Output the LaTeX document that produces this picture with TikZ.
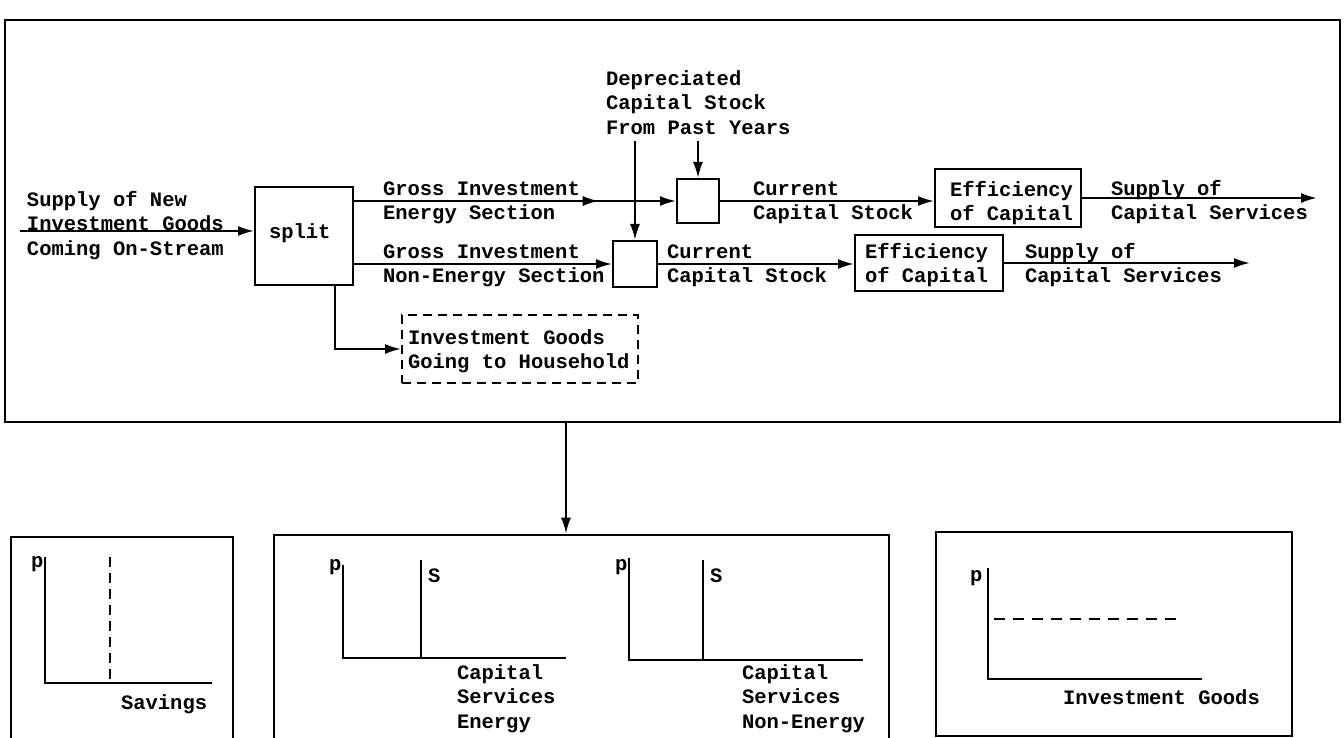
\documentclass[tikz,border=0pt]{standalone}
\usepackage{fontspec}
\newfontfamily\tw{Liberation Mono}[BoldFont={Liberation Mono Bold}]
\usetikzlibrary{arrows.meta,decorations.markings}
\tikzset{
  txt/.style={font=\tw\bfseries\fontsize{20.5pt}{24.5pt}\selectfont, inner sep=0pt, outer sep=0pt},
  lbl/.style={txt, align=left, anchor=north west},
  word/.style={txt, anchor=base west},
  blk/.style={draw, line width=2pt, inner sep=0pt},
  frm/.style={draw, line width=2.6pt, inner sep=0pt},
  head/.tip={Latex[length=16pt,width=10pt]},
  arr/.style={line width=2pt, -head},
  axis/.style={line width=2.2pt},
  dsh/.style={line width=2pt, dash pattern=on 9pt off 6pt},
}
\begin{document}
\begin{tikzpicture}[x=1pt,y=-1pt]
\useasboundingbox (0,0) rectangle (1344,738);
\clip (0,0) rectangle (1344,738);

% ---- capital module ----
\node[frm, minimum width=1335pt, minimum height=402pt] (model) at (672.5,221) {};

\coordinate (src) at (20,231);
\node[lbl] (srcT) at (27,189) {\strut Supply of New\\\strut Investment Goods\\\strut Coming On-Stream};
\node[blk, minimum width=98pt, minimum height=98pt] (split) at (304,236) {};
\node[word] (splitT) at (269,239) {split};
\draw[arr] (src) -- (split.west |- src);

\node[blk, minimum width=42pt, minimum height=44pt] (stkE) at (698,201) {};
\node[blk, minimum width=44pt, minimum height=46pt] (stkN) at (635,264) {};
\node[blk, minimum width=146pt, minimum height=58pt] (effE) at (1008,198) {};
\node[blk, minimum width=148pt, minimum height=56pt] (effN) at (929,263) {};
\node[blk, dsh, minimum width=236pt, minimum height=68pt] (hh) at (520,349) {};

\node[lbl] (grossE) at (383,178) {\strut Gross Investment\\\strut Energy Section};
\node[lbl] (grossN) at (383,241) {\strut Gross Investment\\\strut Non-Energy Section};
\node[lbl] (curE) at (753,178) {\strut Current\\\strut Capital Stock};
\node[lbl] (curN) at (667,241) {\strut Current\\\strut Capital Stock};
\node[lbl] (effEt) at (950,179) {\strut Efficiency\\\strut of Capital};
\node[lbl] (effNt) at (865,241) {\strut Efficiency\\\strut of Capital};
\node[lbl] (supE) at (1111,178) {\strut Supply of\\\strut Capital Services};
\node[lbl] (supN) at (1025,241) {\strut Supply of\\\strut Capital Services};
\node[lbl] (dep) at (606,68) {\strut Depreciated\\\strut Capital Stock\\\strut From Past Years};
\node[lbl] (hhT) at (408,327) {\strut Investment Goods\\\strut Going to Household};

\draw[arr, postaction={decorate},
      decoration={markings, mark=at position 0.76 with {\arrow{head}}}]
  (split.east |- stkE.west) -- (stkE.west);
\draw[arr] (split.east |- stkN.west) -- (stkN.west);
\draw[arr] (stkE.east) -- (effE.west |- stkE.east);
\draw[arr] (stkN.east) -- (effN.west |- stkN.east);
\coordinate (outE) at (1317,198);
\coordinate (outN) at (1250,263);
\draw[arr] (effE.east) -- (outE);
\draw[arr] (effN.east) -- (outN);
\draw[arr] (dep.south -| stkN.north) -- (stkN.north);
\draw[arr] (dep.south -| stkE.north) -- (stkE.north);
\draw[arr] ([xshift=31pt]split.south) |- (hh.west);

% ---- market panels ----
\node[frm, minimum width=222pt, minimum height=223pt] (panel1) at (122,648.5) {};
\node[frm, minimum width=615pt, minimum height=225pt] (panel2) at (581.5,647.5) {};
\node[frm, minimum width=356pt, minimum height=204pt] (panel3) at (1114,634) {};

\coordinate (drop) at (566,0);
\draw[arr] (model.south -| drop) -- (panel2.north -| drop);

% savings market
\node[word] (p1) at (31,567) {p};
\draw[axis] (45,557) -- (45,683) -- (212,683);
\draw[axis, dash pattern=on 10pt off 6pt] (110,557) -- (110,683);
\node[word] (sav) at (121,709) {Savings};

% capital services, energy
\node[word] (p2) at (329,570) {p};
\draw[axis] (343,565) -- (343,658) -- (566,658);
\draw[axis] (421,560) -- (421,658);
\node[word] (s2) at (428,582) {S};
\node[lbl] (capE) at (457,662) {\strut Capital\\\strut Services\\\strut Energy};

% capital services, non-energy
\node[word] (p3) at (615,570) {p};
\draw[axis] (629,558) -- (629,660) -- (863,660);
\draw[axis] (703,560) -- (703,660);
\node[word] (s3) at (710,582) {S};
\node[lbl] (capN) at (742,662) {\strut Capital\\\strut Services\\\strut Non-Energy};

% investment goods market
\node[word] (p4) at (970,581) {p};
\draw[axis] (988,568) -- (988,679) -- (1202,679);
\draw[axis, dash pattern=on 11pt off 8pt] (994,619) -- (1183,619);
\node[word] (invg) at (1063,704) {Investment Goods};
\end{tikzpicture}
\end{document}
